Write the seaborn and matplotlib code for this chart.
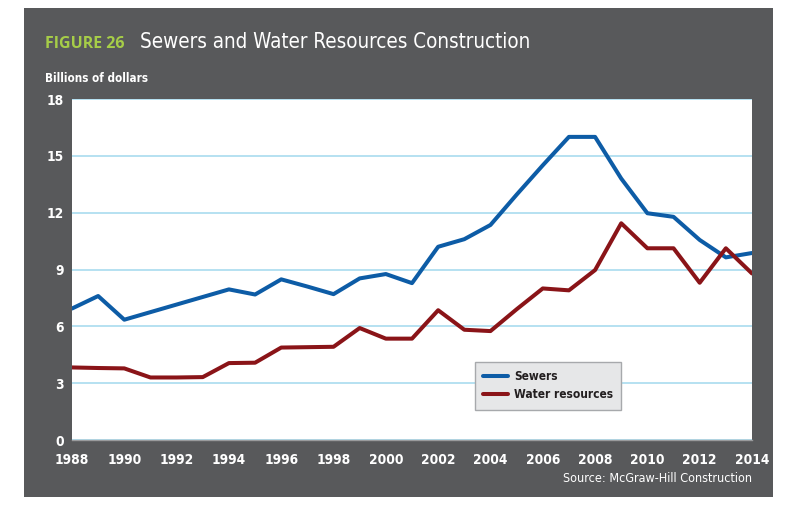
import matplotlib
matplotlib.use("Agg")
import matplotlib.pyplot as plt
from matplotlib import font_manager as fm
from matplotlib.patches import Rectangle
import seaborn as sns
import pandas as pd

# ---------------- data ----------------
years = list(range(1988, 2015))
sewers = [6.94, 7.60, 6.35, 6.75, 7.15, 7.55, 7.95, 7.68, 8.48, 8.10, 7.70, 8.53, 8.76, 8.28,
          10.20, 10.60, 11.35, 12.95, 14.50, 16.00, 16.00, 13.80, 11.97, 11.78, 10.56, 9.64, 9.87]
water = [3.83, 3.80, 3.78, 3.30, 3.30, 3.32, 4.06, 4.08, 4.88, 4.90, 4.92, 5.91, 5.35, 5.35,
         6.85, 5.82, 5.75, 6.90, 8.00, 7.90, 8.97, 11.44, 10.12, 10.12, 8.30, 10.12, 8.79]
series_names = ["Sewers", "Water resources"]
x_ticks = list(range(1988, 2015, 2))
y_ticks = [0, 3, 6, 9, 12, 15, 18]
title_tag = "FIGURE 26"
title_text = "Sewers and Water Resources Construction"
y_label = "Billions of dollars"
source_text = "Source: McGraw-Hill Construction"

# ---------------- fonts ----------------
names = {f.name for f in fm.fontManager.ttflist}
dejavu_cond = any(f.name == "DejaVu Sans" and (f.stretch in ("condensed", "semi-condensed", "extra-condensed")
                  or (isinstance(f.stretch, int) and f.stretch < 500))
                  for f in fm.fontManager.ttflist)
if "Liberation Sans Narrow" in names:
    NARROW = {"family": "Liberation Sans Narrow", "fontstretch": "normal"}
elif dejavu_cond:
    NARROW = {"family": "DejaVu Sans", "fontstretch": "condensed"}
else:
    NARROW = {"family": "Liberation Sans", "fontstretch": "normal"}

sns.set_theme(style="white")
plt.rcParams["font.family"] = ["DejaVu Sans"]

df = pd.DataFrame({
    "year": years * 2,
    "value": sewers + water,
    "series": [series_names[0]] * len(years) + [series_names[1]] * len(years),
})

W, H = 800, 511
fig = plt.figure(figsize=(W / 100, H / 100), dpi=100)
fig.patch.set_facecolor("white")
panel = "#58595b"
fig.patches.append(Rectangle((24 / W, 1 - 497 / H), (773 - 24) / W, (497 - 8) / H,
                             transform=fig.transFigure, facecolor=panel, edgecolor="none", zorder=-5))

L, R, T, B = 72, 752, 99, 440
ax = fig.add_axes([L / W, 1 - B / H, (R - L) / W, (B - T) / H])
ax.set_zorder(2)
ax.set_facecolor("white")

LW = 2.9
sns.lineplot(data=df, x="year", y="value", hue="series", hue_order=series_names,
             palette=["#0d5ca6", "#8a1418"], linewidth=LW, ax=ax, legend=True,
             solid_joinstyle="round", solid_capstyle="round")

ax.set_xlim(1988, 2014)
ax.set_ylim(0, 18)
ax.set_xticks(x_ticks)
ax.set_yticks(y_ticks)
ax.set_xlabel("")
ax.set_ylabel("")
ax.grid(axis="y", color="#a9dcef", linewidth=1.2)
ax.grid(axis="x", visible=False)
ax.set_axisbelow(True)
for s in ax.spines.values():
    s.set_visible(False)
ax.spines["bottom"].set_visible(True)
ax.spines["bottom"].set_color("#9a9b9d")
ax.spines["bottom"].set_linewidth(1.0)
ax.tick_params(axis="both", length=0, colors="white")
ax.tick_params(axis="x", pad=9)
ax.tick_params(axis="y", pad=6)
for lab in ax.get_xticklabels() + ax.get_yticklabels():
    lab.set_fontsize(9.8)
    lab.set_fontweight("bold")
    lab.set_color("white")
    lab.set_family(NARROW["family"])
    lab.set_fontstretch(NARROW["fontstretch"])

leg = ax.legend(loc="upper left", bbox_to_anchor=((475 - L) / (R - L), 1 - (362 - T) / (B - T)),
                borderaxespad=0.0,
                frameon=True, fancybox=False, facecolor="#e6e7e8", edgecolor="#a7a9ac",
                handlelength=2.1, handletextpad=0.45, borderpad=0.7, labelspacing=0.4,
                prop=fm.FontProperties(size=8.6, weight="bold", family=NARROW["family"],
                                       stretch=NARROW["fontstretch"]))
leg.get_frame().set_linewidth(1.0)
leg.get_frame().set_alpha(1)
for line in leg.get_lines():
    line.set_linewidth(LW)
for t in leg.get_texts():
    t.set_color("#231f20")

# titles
fig.text(45 / W, 1 - 48.5 / H, title_tag, color="#a6cd48", fontsize=11.5, fontweight="bold",
         family="Open Sans", ha="left", va="baseline")
fig.text(140 / W, 1 - 48.5 / H, title_text, color="white", fontsize=14.8, fontweight="light",
         ha="left", va="baseline", family=NARROW["family"], fontstretch=NARROW["fontstretch"])
fig.text(45 / W, 1 - 82 / H, y_label, color="white", fontsize=8.4, fontweight="bold",
         ha="left", va="baseline", family=NARROW["family"], fontstretch=NARROW["fontstretch"])
fig.text(752 / W, 1 - 482 / H, source_text, color="white", fontsize=9,
         ha="right", va="baseline", family=NARROW["family"], fontstretch=NARROW["fontstretch"])

fig.savefig("out.png", dpi=100)
